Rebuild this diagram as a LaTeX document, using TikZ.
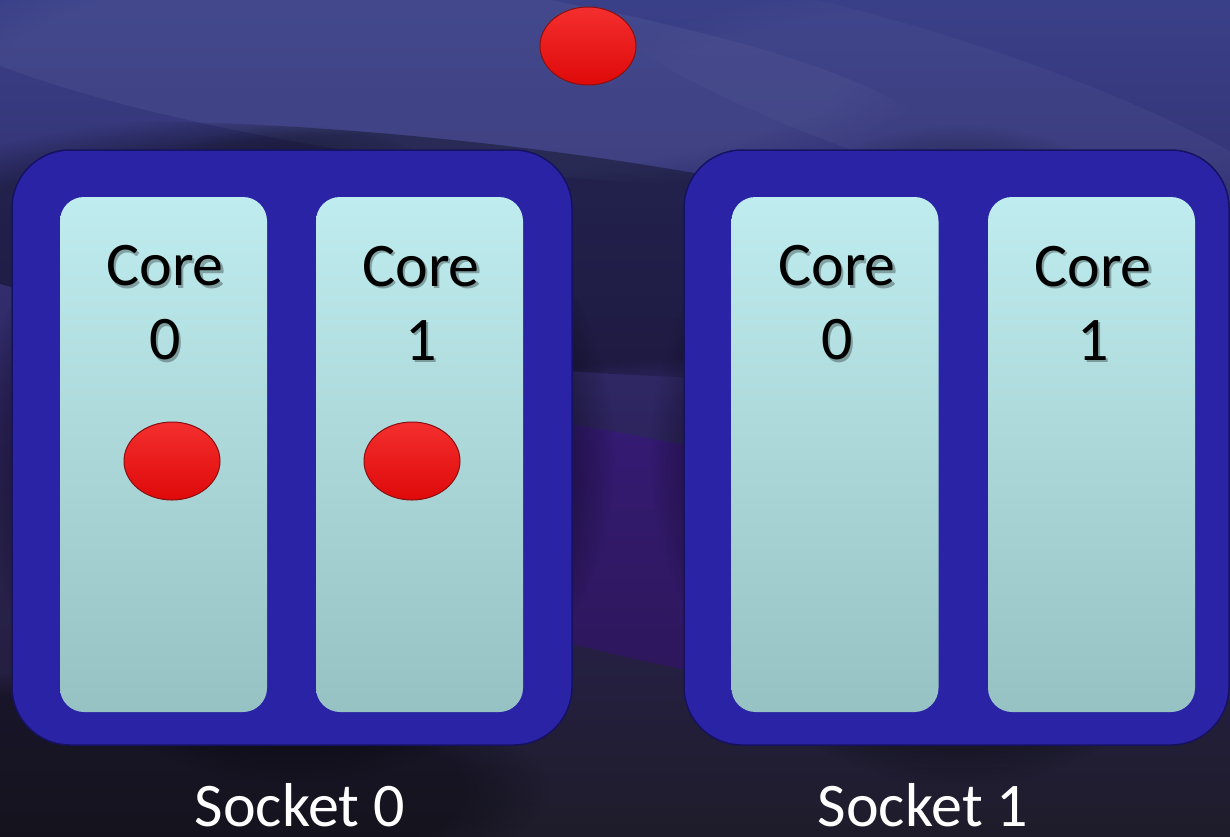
\documentclass[tikz,border=0pt]{standalone}
\usepackage{fontspec}
\setmainfont{Carlito}
\usetikzlibrary{fadings,shapes.geometric}
\definecolor{bgtop}{HTML}{3A4088}
\definecolor{bgmid}{HTML}{2E2560}
\definecolor{bgbot}{HTML}{1E1C2A}
\definecolor{sockblue}{HTML}{2A23A6}
\definecolor{sockedge}{HTML}{161262}
\definecolor{coretop}{HTML}{BFECEE}
\definecolor{corebot}{HTML}{97C2C4}
\definecolor{dotred}{HTML}{F20A0A}
\definecolor{dotedge}{HTML}{8A1010}
\tikzset{
  socketbox/.style={draw=sockedge, line width=1.5pt, fill=sockblue, rounded corners=58pt},
  corebox/.style={rounded corners=24pt, top color=coretop, bottom color=corebot, draw=none},
  coretext/.style={font=\fontsize{62}{74}\selectfont, text=black, align=center},
  coreshadow/.style={font=\fontsize{62}{74}\selectfont, text=black, text opacity=0.3, align=center},
  socklabel/.style={font=\fontsize{62}{74}\selectfont, text=white},
  reddot/.style={ellipse, top color=dotred!85!white, bottom color=dotred!92!black, draw=dotedge, line width=1pt, inner sep=0pt, minimum width=96pt, minimum height=78pt},
  blob/.style={path fading=circle with fuzzy edge 20 percent},
}
\begin{document}
\begin{tikzpicture}[x=1pt,y=-1pt]
\useasboundingbox (0,0) rectangle (1230,836);
% background
\fill[top color=bgtop, bottom color=bgbot, middle color=bgmid] (0,0) rectangle (1230,836);
\begin{scope}
\clip (0,0) rectangle (1230,836);
\fill[blob, fill=bgtop!85!white, fill opacity=0.3, rotate around={-8:(420,70)}] (420,70) ellipse (520 and 90);
\fill[blob, fill=black, fill opacity=0.35, rotate around={-6:(450,250)}] (450,250) ellipse (650 and 110);
\fill[blob, fill=violet!60!blue, fill opacity=0.25, rotate around={-12:(700,560)}] (700,560) ellipse (600 and 110);
\fill[blob, fill=bgtop!85!white, fill opacity=0.2, rotate around={-18:(950,110)}] (950,110) ellipse (380 and 70);
\fill[blob, fill=black, fill opacity=0.3] (100,790) ellipse (450 and 120);
\end{scope}
% top dot
\node[reddot] (dtop) at (588,46) {};
% socket shadows
\fill[blob, fill=black, fill opacity=0.45] (295,455) ellipse (320 and 330);
\fill[blob, fill=black, fill opacity=0.45] (960,455) ellipse (310 and 330);
% sockets
\node[socketbox, minimum width=560pt, minimum height=595pt] (s0) at (292,447.5) {};
\node[socketbox, minimum width=545pt, minimum height=595pt] (s1) at (956.5,447.5) {};
% cores
\node[corebox, minimum width=207pt, minimum height=515pt] (c00) at (163.5,454.5) {};
\node[corebox, minimum width=207pt, minimum height=515pt] (c01) at (419.5,454.5) {};
\node[corebox, minimum width=207pt, minimum height=515pt] (c10) at (835,454.5) {};
\node[corebox, minimum width=207pt, minimum height=515pt] (c11) at (1091.5,454.5) {};
% core labels with soft shadow
\foreach \n/\x/\d in {a/165/0, b/421/1, c/837/0, d/1093/1}{
  \node[coreshadow] (sh\n) at (\x+2.5,305.5) {Core\\\d};
  \node[coretext] (t\n) at (\x,303) {Core\\\d};
}
% dots in cores
\node[reddot] (d00) at (172,461) {};
\node[reddot] (d01) at (412,461) {};
% socket labels
\node[socklabel] (l0) at (300,805) {Socket 0};
\node[socklabel] (l1) at (923,805) {Socket 1};
\end{tikzpicture}
\end{document}
